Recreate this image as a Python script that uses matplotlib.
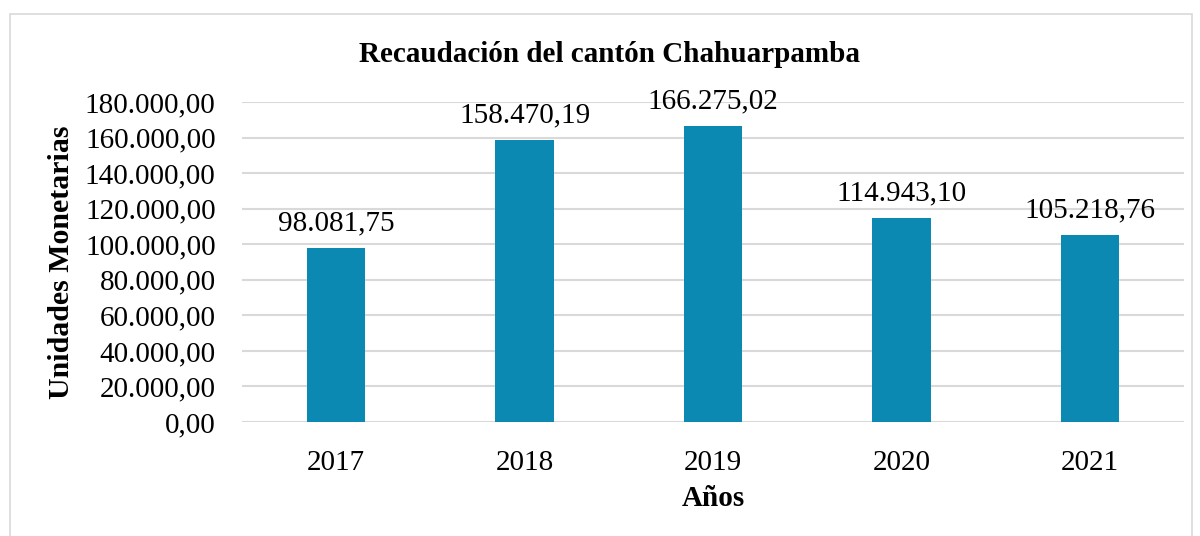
import matplotlib.pyplot as plt
from matplotlib.patches import Rectangle
import numpy as np

years = ["2017", "2018", "2019", "2020", "2021"]
values = [98081.75, 158470.19, 166275.02, 114943.10, 105218.76]
labels = ["98.081,75", "158.470,19", "166.275,02", "114.943,10", "105.218,76"]
yticks = [0, 20000, 40000, 60000, 80000, 100000, 120000, 140000, 160000, 180000]

plt.rcParams['font.family'] = ['Liberation Serif', 'DejaVu Serif']

def fmt(v):
    s = "{:,.2f}".format(v)
    return s.replace(",", "X").replace(".", ",").replace("X", ".")

fig = plt.figure(figsize=(12, 5.36), dpi=100)
fig.patches.append(Rectangle((10 / 1200, -0.02), 1182 / 1200, 1 - 14 / 536 + 0.02,
                             transform=fig.transFigure, fill=False,
                             edgecolor='#d9d9d9', linewidth=1.2))

ax = fig.add_axes([242 / 1200, 1 - 422 / 536, 942 / 1200, 320 / 536])
x = np.arange(len(years))
bars = ax.bar(x, values, width=0.31, color='#0b89b3', zorder=3)
for i, b in enumerate(bars):
    ax.text(b.get_x() + b.get_width() / 2, values[i] + 6500, labels[i],
            ha='center', va='bottom', fontsize=21, zorder=4)

ax.set_xlim(-0.5, len(years) - 0.5)
ax.set_ylim(0, 180000)
ax.set_yticks(yticks)
ax.set_yticklabels([fmt(v) for v in yticks], fontsize=21)
ax.set_xticks(x)
ax.set_xticklabels(years, fontsize=21)
ax.yaxis.grid(True, color='#d9d9d9', linewidth=1.5, zorder=0)
ax.tick_params(length=0)
ax.tick_params(axis='y', pad=19)
ax.tick_params(axis='x', pad=20)
for s in ax.spines.values():
    s.set_visible(False)

fig.text(0.508, 1 - 55 / 536, "Recaudación del cantón Chahuarpamba",
         ha='center', va='center', fontsize=21, fontweight='bold')
fig.text(713 / 1200, 1 - 498 / 536, "Años", ha='center', va='center',
         fontsize=21, fontweight='bold')
fig.text(62 / 1200, 1 - 262 / 536, "Unidades Monetarias", ha='center', va='center',
         rotation=90, fontsize=21.5, fontweight='bold')

fig.savefig("out.png", dpi=100)
